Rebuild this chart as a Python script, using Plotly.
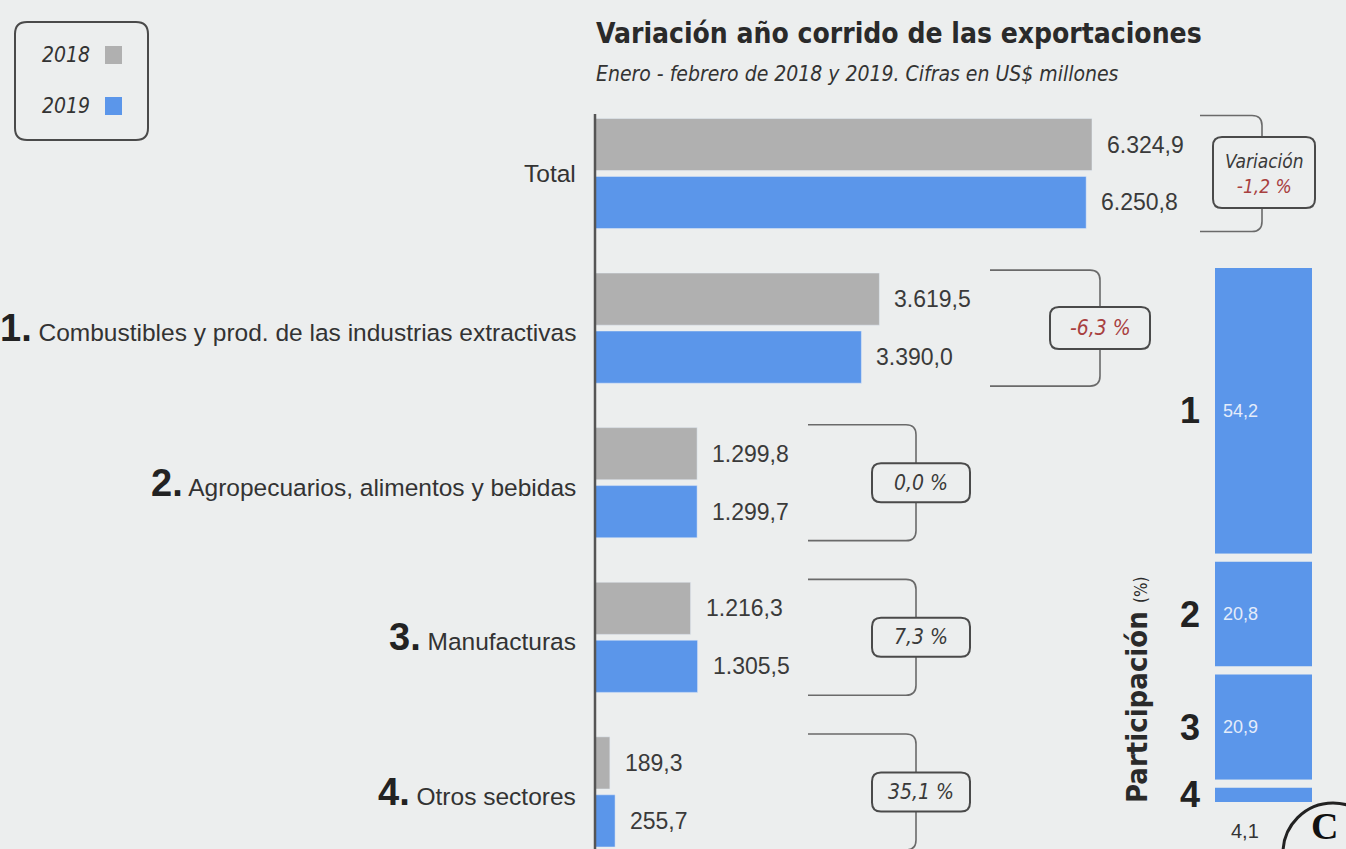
import plotly.graph_objects as go

# ---------------- data ----------------
categories = ["Total",
              "Combustibles y prod. de las industrias extractivas",
              "Agropecuarios, alimentos y bebidas",
              "Manufacturas",
              "Otros sectores"]
cat_numbers = ["", "1.", "2.", "3.", "4."]
values_2018 = [6324.9, 3619.5, 1299.8, 1216.3, 189.3]
values_2019 = [6250.8, 3390.0, 1299.7, 1305.5, 255.7]
variation_pct = [-1.2, -6.3, 0.0, 7.3, 35.1]
share_labels = ["1", "2", "3", "4"]
share_2019 = [54.2, 20.8, 20.9, 4.1]
years = ["2018", "2019"]

# ---------------- style ----------------
W, H = 1346, 849
BG = "#eceeee"
GRAY = "#b0b0b0"
BLUE = "#5b96ea"
DARK = "#333333"
RED = "#a8403f"
SANS = "Liberation Sans, Arial, sans-serif"
NARROW = "Liberation Sans Narrow, DejaVu Sans Condensed, Arial Narrow, sans-serif"


def es(v, d=1):
    s = f"{v:,.{d}f}"
    return s.replace(",", "X").replace(".", ",").replace("X", ".")


def pxx(x):
    return x / W


def pxy(y):
    return 1 - y / H


# main axes mapping (pixels)
X0_PX = 595.0
SCALE = 497.0 / 6324.9          # px per US$ million
CAT0_PX, CAT_STEP = 173.5, 154.6
y_top = -CAT0_PX / CAT_STEP
y_bot = (H - CAT0_PX) / CAT_STEP

idx = list(range(len(categories)))

fig = go.Figure()
fig.add_trace(go.Bar(y=idx, x=values_2018, orientation="h", name=years[0],
                     marker=dict(color=GRAY), xaxis="x", yaxis="y",
                     showlegend=False, hoverinfo="x"))
fig.add_trace(go.Bar(y=idx, x=values_2019, orientation="h", name=years[1],
                     marker=dict(color=BLUE), xaxis="x", yaxis="y",
                     showlegend=False, hoverinfo="x"))

# participation stacked bar
bases = []
acc = 0
for v in share_2019:
    bases.append(acc)
    acc += v
fig.add_trace(go.Bar(x=[0] * len(share_2019), y=share_2019, base=bases, width=1,
                     marker=dict(color=BLUE, line=dict(color=BG, width=8), cornerradius=4),
                     xaxis="x2", yaxis="y2", showlegend=False, hoverinfo="y"))

shapes = []
ann = []

# axis line at zero
shapes.append(dict(type="line", xref="x", yref="y", x0=0, x1=0, y0=-0.385, y1=4.7,
                   line=dict(color="#555555", width=2.5), layer="above"))

# value labels
off = 0.1875
for k in idx:
    for v, dy in ((values_2018[k], -off), (values_2019[k], off)):
        ann.append(dict(x=v, y=k + dy, xref="x", yref="y", text=es(v), showarrow=False,
                        xanchor="left", yanchor="middle", xshift=13,
                        font=dict(family=SANS, size=23, color="#3a3a3a")))

# category labels
for k in idx:
    if cat_numbers[k]:
        txt = (f"<span style='font-size:38px;font-weight:bold;color:#222'>{cat_numbers[k]}</span>"
               f" {categories[k]}")
    else:
        txt = categories[k]
    ann.append(dict(x=pxx(578), y=k, xref="paper", yref="y", text=txt, showarrow=False,
                    xanchor="right", yanchor="middle",
                    font=dict(family=SANS, size=24.5, color=DARK)))

# brackets + variation boxes
bracket_x = [(1200, 1262), (990, 1100), (808, 916), (808, 916), (808, 916)]
box_x = [(1213, 1315), (1050, 1150), (872, 970), (872, 970), (872, 970)]
box_h = [71, 42, 39, 39, 39]
R = 10


def rrect_path(x0, x1, yc, hpx, r):
    a, b = pxx(x0), pxx(x1)
    rx = r / W
    ry = r / CAT_STEP
    t = yc - hpx / 2 / CAT_STEP
    btm = yc + hpx / 2 / CAT_STEP
    return (f"M {a+rx},{t} L {b-rx},{t} Q {b},{t} {b},{t+ry} L {b},{btm-ry} "
            f"Q {b},{btm} {b-rx},{btm} L {a+rx},{btm} Q {a},{btm} {a},{btm-ry} "
            f"L {a},{t+ry} Q {a},{t} {a+rx},{t} Z")


for k in idx:
    xl, xr = bracket_x[k]
    a, b = pxx(xl), pxx(xr)
    rx, ry = R / W, R / CAT_STEP
    t, btm = k - 0.375, k + 0.375
    path = (f"M {a},{t} L {b-rx},{t} Q {b},{t} {b},{t+ry} L {b},{btm-ry} "
            f"Q {b},{btm} {b-rx},{btm} L {a},{btm}")
    shapes.append(dict(type="path", xref="paper", yref="y", path=path,
                       line=dict(color="#6a6a6a", width=1.6), layer="above"))
    bx0, bx1 = box_x[k]
    shapes.append(dict(type="path", xref="paper", yref="y",
                       path=rrect_path(bx0, bx1, k - (1 / CAT_STEP if k == 0 else 0), box_h[k], 9),
                       line=dict(color="#4a4a4a", width=2), fillcolor=BG, layer="above"))
    vtxt = es(variation_pct[k]) + " %"
    col = RED if variation_pct[k] < 0 else "#3a3a3a"
    if k == 0:
        txt = f"Variación<br><span style='color:{col}'>{vtxt}</span>"
        size = 19
    else:
        txt = f"<span style='color:{col}'>{vtxt}</span>"
        size = 21
    ann.append(dict(x=pxx((bx0 + bx1) / 2), y=k, xref="paper", yref="y",
                    text=f"<i>{txt}</i>", showarrow=False, xanchor="center", yanchor="middle",
                    font=dict(family=NARROW, size=size, color="#3a3a3a")))

# participation labels
for i, v in enumerate(share_2019):
    mid = bases[i] + v / 2
    ann.append(dict(x=pxx(1202), y=mid, xref="paper", yref="y2", text=f"<b>{share_labels[i]}</b>",
                    showarrow=False, xanchor="right", yanchor="middle",
                    font=dict(family=SANS, size=36, color="#222222")))
    if v > 10:
        ann.append(dict(x=pxx(1221), y=mid, xref="paper", yref="y2", text=es(v),
                        showarrow=False, xanchor="left", yanchor="middle",
                        font=dict(family=SANS, size=18, color="#e4ecfa")))
    else:
        ann.append(dict(x=pxx(1245), y=bases[i] + v, xref="paper", yref="y2", text=es(v),
                        showarrow=False, xanchor="center", yanchor="top", yshift=-12,
                        font=dict(family=SANS, size=20, color="#333333")))

ann.append(dict(x=pxx(1137), y=pxy(690), xref="paper", yref="paper",
                text="<b>Participación</b> <span style='font-size:17px'>(%)</span>",
                textangle=-90, showarrow=False, xanchor="center", yanchor="middle",
                font=dict(family=NARROW, size=29, color="#2a2a2a")))

# title and subtitle
ann.append(dict(x=pxx(594), y=pxy(33), xref="paper", yref="paper",
                text="<b>Variación año corrido de las exportaciones</b>", showarrow=False,
                xanchor="left", yanchor="middle",
                font=dict(family=NARROW, size=28, color="#2a2a2a")))
ann.append(dict(x=pxx(594), y=pxy(74), xref="paper", yref="paper",
                text="<i>Enero - febrero de 2018 y 2019. Cifras en US$ millones</i>", showarrow=False,
                xanchor="left", yanchor="middle",
                font=dict(family=NARROW, size=21, color="#333333")))


def rr_paper(x0, y0, x1, y1, r):
    return (f"M {pxx(x0+r)},{pxy(y0)} L {pxx(x1-r)},{pxy(y0)} Q {pxx(x1)},{pxy(y0)} {pxx(x1)},{pxy(y0+r)} "
            f"L {pxx(x1)},{pxy(y1-r)} Q {pxx(x1)},{pxy(y1)} {pxx(x1-r)},{pxy(y1)} "
            f"L {pxx(x0+r)},{pxy(y1)} Q {pxx(x0)},{pxy(y1)} {pxx(x0)},{pxy(y1-r)} "
            f"L {pxx(x0)},{pxy(y0+r)} Q {pxx(x0)},{pxy(y0)} {pxx(x0+r)},{pxy(y0)} Z")


# custom legend box
shapes.append(dict(type="path", xref="paper", yref="paper", path=rr_paper(15, 22, 148, 140, 12),
                   line=dict(color="#4a4a4a", width=2)))
for yr, col, yc in ((years[0], GRAY, 55), (years[1], BLUE, 106)):
    ann.append(dict(x=pxx(92), y=pxy(yc), xref="paper", yref="paper", text=f"<i>{yr}</i>",
                    showarrow=False, xanchor="right", yanchor="middle",
                    font=dict(family=NARROW, size=21, color="#333333")))
    shapes.append(dict(type="rect", xref="paper", yref="paper",
                       x0=pxx(105), x1=pxx(122), y0=pxy(yc - 9), y1=pxy(yc + 9),
                       fillcolor=col, line=dict(width=0)))

# logo circle
shapes.append(dict(type="circle", xref="paper", yref="paper",
                   x0=pxx(1283), x1=pxx(1383), y0=pxy(903), y1=pxy(803),
                   line=dict(color="#222222", width=3), fillcolor=BG))
ann.append(dict(x=pxx(1324), y=pxy(826), xref="paper", yref="paper", text="<b>C</b>",
                showarrow=False, xanchor="center", yanchor="middle",
                font=dict(family="Liberation Serif, DejaVu Serif, serif", size=38, color="#111111")))

fig.update_layout(
    width=W, height=H, margin=dict(l=0, r=0, t=0, b=0),
    paper_bgcolor=BG, plot_bgcolor="rgba(0,0,0,0)",
    barmode="group", bargap=0.25, bargroupgap=0.1,
    xaxis=dict(domain=[0, 1], range=[-X0_PX / SCALE, (W - X0_PX) / SCALE], visible=False, fixedrange=True),
    yaxis=dict(domain=[0, 1], range=[y_bot, y_top], visible=False, fixedrange=True),
    xaxis2=dict(domain=[pxx(1211), pxx(1316)], range=[-0.5, 0.5], anchor="y2", visible=False),
    yaxis2=dict(domain=[pxy(806), pxy(264)], range=[100, 0], anchor="x2", visible=False),
    shapes=shapes, annotations=ann,
    font=dict(family=SANS, color=DARK),
)

fig.write_html("out.html", config={"displayModeBar": False},
               post_script="document.body.style.margin='0';document.body.style.overflow='hidden';")
